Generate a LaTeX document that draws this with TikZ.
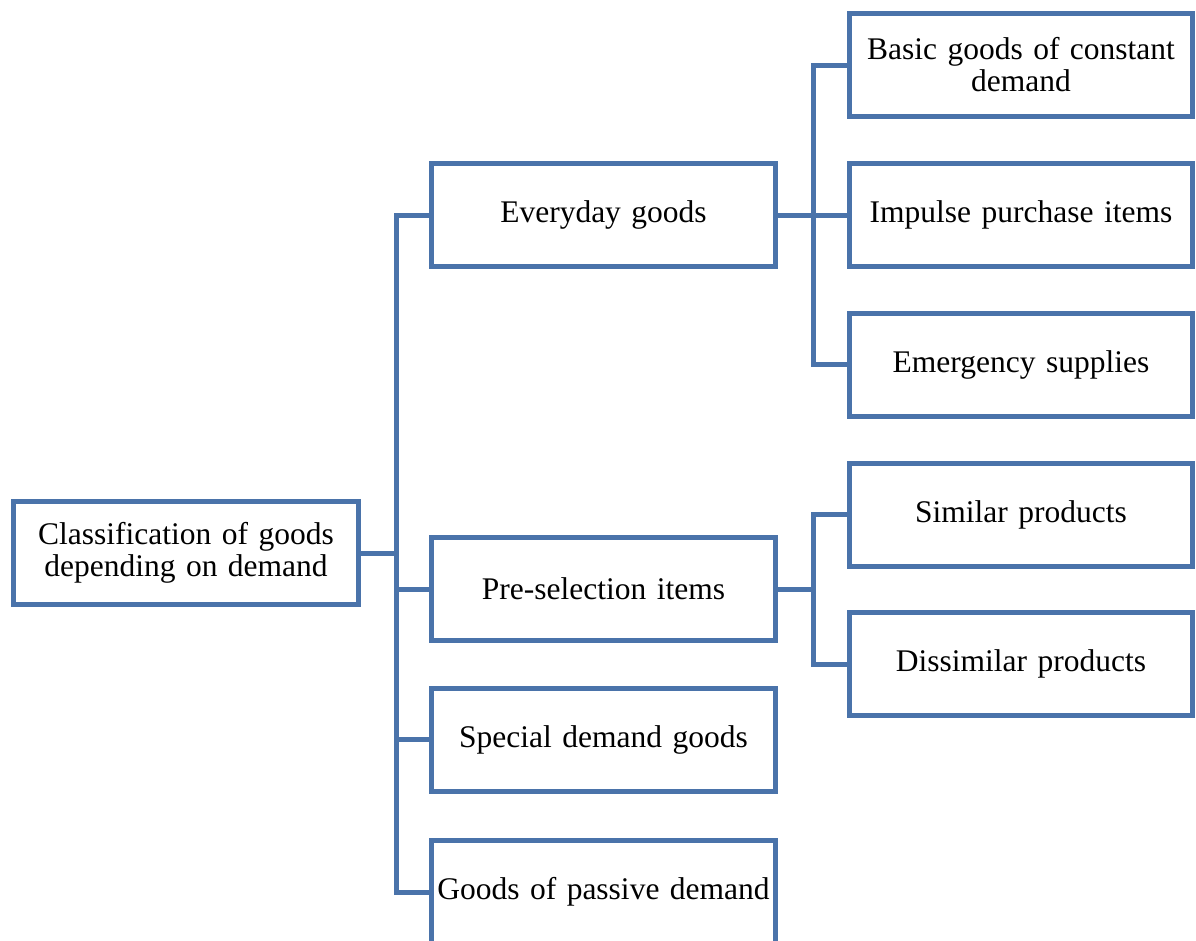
\documentclass[tikz,border=0pt]{standalone}
\usepackage{fontspec}
\setmainfont{Liberation Serif}
\definecolor{boxblue}{RGB}{74,115,170}
\begin{document}
\begin{tikzpicture}[x=1pt,y=-1pt,
  box/.style={draw=boxblue, line width=5pt, fill=white, rectangle,
    minimum width=345pt, minimum height=103pt, inner sep=0pt,
    text width=338pt, align=center,
    font=\fontsize{31.5}{32}\selectfont},
  conn/.style={draw=boxblue, line width=5pt}]
\useasboundingbox (0,0) rectangle (1196,940);
\clip (0,0) rectangle (1196,940);
% root
\node[box] (root) at (186,553) {Classification of goods\\depending on demand};
% second level
\node[box, minimum width=344pt] (every) at (603.5,215) {Everyday goods};
\node[box, minimum width=344pt] (pre) at (603.5,589) {Pre-selection items};
\node[box, minimum width=344pt] (special) at (603.5,739.5) {Special demand goods};
\node[box, minimum width=344pt] (passive) at (603.5,892) {Goods of passive demand};
% third level
\node[box, minimum width=343pt] (basic) at (1021,65) {Basic goods of constant\\demand};
\node[box, minimum width=343pt] (impulse) at (1021,215) {Impulse purchase items};
\node[box, minimum width=343pt] (emerg) at (1021,364.5) {Emergency supplies};
\node[box, minimum width=343pt] (similar) at (1021,514.5) {Similar products};
\node[box, minimum width=343pt] (dissim) at (1021,664) {Dissimilar products};
% trunk from the root
\draw[conn] (root.east) -- ++(35,0) coordinate (j);
\draw[conn] (every.west) -| (j) |- (passive.west);
\draw[conn] (j |- pre.west) -- (pre.west);
\draw[conn] (j |- special.west) -- (special.west);
% everyday goods branch
\draw[conn] (every.east) -- ++(35,0) coordinate (k);
\draw[conn] (basic.west) -| (k) |- (emerg.west);
\draw[conn] (k |- impulse.west) -- (impulse.west);
% pre-selection branch
\draw[conn] (pre.east) -- ++(35,0) coordinate (m);
\draw[conn] (similar.west) -| (m) |- (dissim.west);
\end{tikzpicture}
\end{document}
